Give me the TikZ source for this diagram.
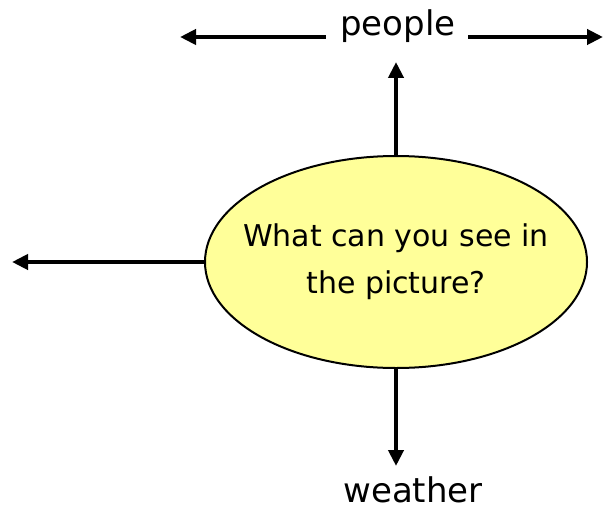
\documentclass[tikz,border=0pt]{standalone}
\usepackage{fontspec}
\setmainfont{DejaVu Sans}
\usetikzlibrary{arrows.meta,shapes.geometric,positioning}
\definecolor{bubble}{HTML}{FFFF99}

\begin{document}
\begin{tikzpicture}[x=0.5pt, y=-0.5pt,
    bubble/.style={draw, ellipse, line width=1pt, fill=bubble, minimum width=191pt, minimum height=106pt, inner sep=-12pt, align=center, font=\fontsize{15}{23.5}\selectfont},
    word/.style={font=\fontsize{17}{19}\selectfont, inner sep=2pt},
    arr/.style={-{Triangle[length=8pt, width=7.5pt]}, line width=2pt}
]
\useasboundingbox (0,0) rectangle (603,508);
\node[bubble] (q) at (396,262) {What can you see in\\the picture?};
\node[word] (people) at (398,26) {people};
\node[word] (weather) at (413,490) {weather};

\coordinate (pl) at (180,37);
\coordinate (pr) at (603,37);
\coordinate (ql) at (12,262);
\coordinate (qn) at (396,62);
\coordinate (qs) at (396,466);

\draw[arr] (q.north) -- (qn);
\draw[arr] (q.south) -- (qs);
\draw[arr] (q.west) -- (ql);
\draw[arr] (people.west |- pl) ++(-10,0) -- (pl);
\draw[arr] (people.east |- pr) ++(8,0) -- (pr);
\end{tikzpicture}
\end{document}
